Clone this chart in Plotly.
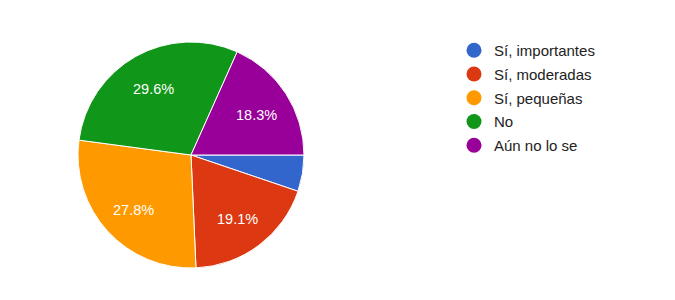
import math
import plotly.graph_objects as go

labels = ["Sí, importantes", "Sí, moderadas", "Sí, pequeñas", "No", "Aún no lo se"]
values = [5.2, 19.1, 27.8, 29.6, 18.3]
colors = ["#3366cc", "#dc3912", "#ff9900", "#109618", "#990099"]
shown = ["", "19.1%", "27.8%", "29.6%", "18.3%"]

W, H = 675, 300
# pie geometry (pixels)
cx, cy, R = 191, 155, 113
fig = go.Figure()
fig.add_trace(go.Pie(
    labels=labels, values=values, sort=False, direction="clockwise", rotation=90,
    marker=dict(colors=colors, line=dict(color="white", width=1)),
    textinfo="none",
    showlegend=False, hoverinfo="label+percent",
    domain=dict(x=[(cx - R) / W, (cx + R) / W], y=[1 - (cy + R) / H, 1 - (cy - R) / H]),
))
# slice labels placed at ~0.69 R along each slice's mid-angle (clockwise from 3 o'clock)
total = sum(values)
cum = 0.0
for v, t in zip(values, shown):
    mid = (cum + v / 2) / total * 2 * math.pi
    cum += v
    if not t:
        continue
    px = cx + 0.69 * R * math.cos(mid)
    py = cy + 0.69 * R * math.sin(mid)
    fig.add_annotation(x=px / W, y=1 - py / H, xref="paper", yref="paper",
                       text=t, showarrow=False, xanchor="center", yanchor="middle",
                       yshift=-2,
                       font=dict(family="Liberation Sans, Arial", size=14.5, color="white"))
for lab, col in zip(labels, colors):
    fig.add_trace(go.Scatter(x=[None], y=[None], mode="markers", name=lab, legendgroup=lab,
                             marker=dict(color=col, size=15, symbol="circle")))
fig.update_layout(
    width=W, height=H, margin=dict(l=0, r=0, t=0, b=0),
    paper_bgcolor="white", plot_bgcolor="white",
    xaxis=dict(visible=False), yaxis=dict(visible=False),
    legend=dict(x=454 / W, y=1 - 34 / H, xanchor="left", yanchor="top",
                font=dict(family="Liberation Sans, Arial", size=15, color="#222222"),
                itemwidth=30, tracegroupgap=1.25, bgcolor="rgba(0,0,0,0)"),
)
fig.write_html("out.html")
